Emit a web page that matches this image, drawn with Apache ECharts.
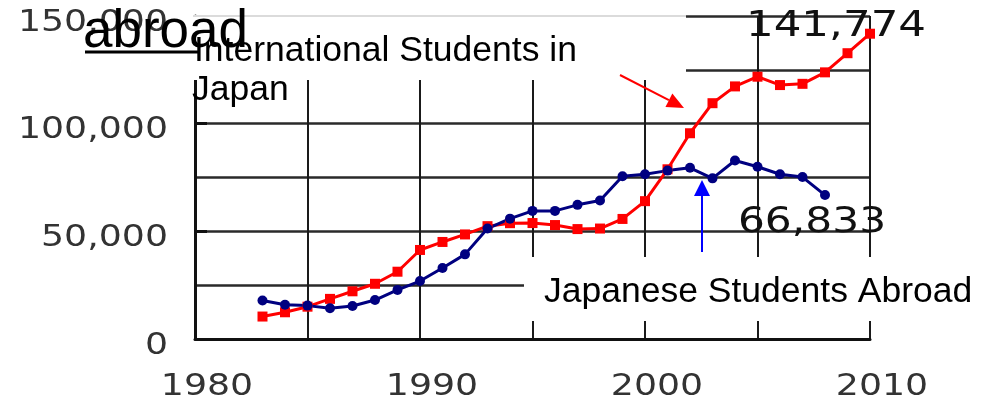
<!DOCTYPE html>
<html>
<head>
<meta charset="utf-8">
<script src="https://cdn.jsdelivr.net/npm/echarts@6/dist/echarts.min.js"></script>
<style>
  html, body { margin: 0; padding: 0; background: #fff; }
  #chart { width: 986px; height: 402px; }
</style>
</head>
<body>
<div id="chart"></div>
<script>
// International students enrolled in Japan, 1983-2010
const years = [1983, 1984, 1985, 1986, 1987, 1988, 1989, 1990, 1991, 1992, 1993, 1994, 1995, 1996,
  1997, 1998, 1999, 2000, 2001, 2002, 2003, 2004, 2005, 2006, 2007, 2008, 2009, 2010];
const studentsInJapan = [10428, 12410, 15009, 18631, 22154, 25643, 31251, 41347, 45066, 48561, 52405,
  53787, 53847, 52921, 51047, 51298, 55755, 64011, 78812, 95550, 109508, 117302, 121812, 117927,
  118498, 123829, 132720, 141774];

// Japanese students studying abroad, 1983-2008
const abroadYears = [1983, 1984, 1985, 1986, 1987, 1988, 1989, 1990, 1991, 1992, 1993, 1994, 1995,
  1996, 1997, 1998, 1999, 2000, 2001, 2002, 2003, 2004, 2005, 2006, 2007, 2008];
const japaneseAbroad = [17900, 15900, 15500, 14300, 15300, 18100, 22800, 26900, 33000, 39300, 51300,
  55900, 59500, 59500, 62300, 64300, 75600, 76500, 78200, 79500, 74600, 82900, 80000, 76500, 75200,
  66833];

// Axis tick labels
const yTickValues = [0, 50000, 100000, 150000];
const xTickValues = [1980, 1990, 2000, 2010];

const fmt = v => v.toLocaleString('en-US');
const NUM_FONT = '"DejaVu Sans", Verdana, sans-serif';
const TXT_FONT = '"Liberation Sans", Arial, sans-serif';
const WIDE = 1.21; // numbers are set slightly wide

const chart = echarts.init(document.getElementById('chart'), null, { renderer: 'canvas' });

chart.setOption({
  animation: false,
  backgroundColor: '#fff',
  grid: { left: 195, right: 116, top: 16, bottom: 63 },
  xAxis: {
    type: 'value', min: 1980, max: 2010, interval: 10,
    axisLine: { show: true, onZero: false, lineStyle: { color: '#111', width: 3 } },
    axisTick: { show: false },
    axisLabel: { show: false },
    splitLine: { show: true, lineStyle: { color: '#1a1a1a', width: 2 } },
    minorTick: { show: false, splitNumber: 2 },
    minorSplitLine: { show: true, lineStyle: { color: '#1a1a1a', width: 2 } }
  },
  yAxis: {
    type: 'value', min: 0, max: 150000, interval: 50000,
    axisLine: { show: true, lineStyle: { color: '#111', width: 3 } },
    axisTick: { show: true, inside: true, length: 12, lineStyle: { color: '#111', width: 3 } },
    axisLabel: { show: false },
    splitLine: { show: true, lineStyle: { color: '#2a2a2a', width: 2.5 } },
    minorTick: { show: false, splitNumber: 2 },
    minorSplitLine: { show: true, lineStyle: { color: '#2a2a2a', width: 2.5 } }
  },
  series: [
    {
      type: 'line', name: 'International Students in Japan', z: 3,
      data: years.map((y, i) => [y, studentsInJapan[i]]),
      symbol: 'rect', symbolSize: 10,
      itemStyle: { color: '#ff0000' },
      lineStyle: { color: '#ff0000', width: 3 }
    },
    {
      type: 'line', name: 'Japanese Students Abroad', z: 3,
      data: abroadYears.map((y, i) => [y, japaneseAbroad[i]]),
      symbol: 'circle', symbolSize: 10,
      itemStyle: { color: '#000080' },
      lineStyle: { color: '#000080', width: 3 }
    }
  ]
});

const px = (x, y) => chart.convertToPixel({ gridIndex: 0 }, [x, y]);

function wideText(x, y, text, size, color, align) {
  return {
    type: 'text', x: x, y: y, scaleX: WIDE, z: 20,
    style: {
      text: text, x: 0, y: 0, align: align || 'center', verticalAlign: 'middle',
      fontSize: size, fontFamily: NUM_FONT, fill: color
    }
  };
}

const graphics = [];

// white boxes behind the annotation texts
graphics.push({ type: 'rect', z: 5, shape: { x: 191, y: 15, width: 495, height: 65 }, style: { fill: '#fff' } });
graphics.push({ type: 'line', z: 6, shape: { x1: 193, y1: 16, x2: 686, y2: 16 }, style: { stroke: '#cfcfcf', lineWidth: 1.5 } });
graphics.push({ type: 'rect', z: 5, shape: { x: 524, y: 257, width: 462, height: 64 }, style: { fill: '#fff' } });

// y tick labels
yTickValues.forEach(v => {
  const p = px(1980, v);
  graphics.push(wideText(168, p[1] + 7, fmt(v), 30, '#333', 'right'));
});
// x tick labels
xTickValues.forEach(v => {
  const p = px(v, 0);
  graphics.push(wideText(p[0] + 12, 387, String(v), 30, '#333', 'center'));
});

// end-value labels
const lastIn = px(years[years.length - 1], studentsInJapan[studentsInJapan.length - 1]);
graphics.push(wideText(lastIn[0] - 34, lastIn[1] - 7, fmt(studentsInJapan[studentsInJapan.length - 1]), 36, '#111'));
const lastAb = px(abroadYears[abroadYears.length - 1], japaneseAbroad[japaneseAbroad.length - 1]);
graphics.push(wideText(lastAb[0] - 13, lastAb[1] + 27.5, fmt(japaneseAbroad[japaneseAbroad.length - 1]), 35, '#111'));

// annotation texts
function plainText(x, y, text, size) {
  return {
    type: 'text', x: x, y: y, z: 20,
    style: { text: text, x: 0, y: 0, align: 'left', verticalAlign: 'middle', fontSize: size, fontFamily: TXT_FONT, fill: '#000' }
  };
}
graphics.push(plainText(194, 51.5, 'International Students in', 35.5));
graphics.push(plainText(192, 90.5, 'Japan', 35.5));
graphics.push(plainText(544, 292.5, 'Japanese Students Abroad', 35.5));
graphics.push(plainText(83, 32.5, 'abroad', 53));
graphics.push({ type: 'line', z: 20, shape: { x1: 85, y1: 52, x2: 200, y2: 52 }, style: { stroke: '#000', lineWidth: 3 } });

// red pointer toward the international-students curve
(function () {
  const x1 = 620, y1 = 75, x2 = 684, y2 = 108;
  const ang = Math.atan2(y2 - y1, x2 - x1);
  const len = 17, hw = 7.5;
  const bx = x2 - len * Math.cos(ang), by = y2 - len * Math.sin(ang);
  graphics.push({ type: 'line', z: 20, shape: { x1: x1, y1: y1, x2: bx, y2: by }, style: { stroke: '#ff0000', lineWidth: 2 } });
  graphics.push({
    type: 'polygon', z: 20,
    shape: { points: [[x2, y2], [bx + hw * Math.sin(ang), by - hw * Math.cos(ang)], [bx - hw * Math.sin(ang), by + hw * Math.cos(ang)]] },
    style: { fill: '#ff0000' }
  });
})();

// blue pointer toward the students-abroad curve
graphics.push({ type: 'line', z: 20, shape: { x1: 702, y1: 252, x2: 702, y2: 194 }, style: { stroke: '#0000ff', lineWidth: 2 } });
graphics.push({ type: 'polygon', z: 20, shape: { points: [[702, 180], [694, 196], [710, 196]] }, style: { fill: '#0000ff' } });

chart.setOption({ graphic: graphics });
</script>
</body>
</html>
